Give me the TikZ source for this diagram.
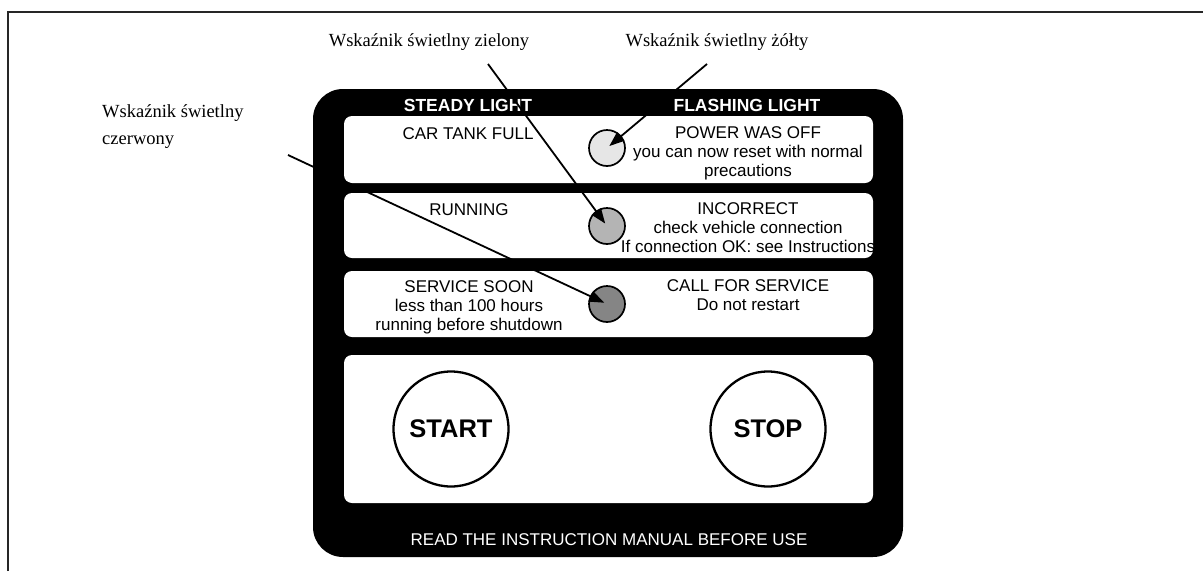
\documentclass[tikz,border=0pt]{standalone}
\usepackage{fontspec}
\setmainfont{Liberation Serif}
\setsansfont{Liberation Sans}
\usetikzlibrary{arrows.meta, positioning}
\definecolor{lampyel}{HTML}{E6E6E6}
\definecolor{lampgrn}{HTML}{B4B4B4}
\definecolor{lampred}{HTML}{858585}
\tikzset{
    lbl/.style={font=\fontsize{18.5}{27}\selectfont, inner sep=0pt},
    panel/.style={fill=black, rounded corners=30pt},
    rowbox/.style={fill=white, rounded corners=8pt},
    hdr/.style={text=white, font=\sffamily\bfseries\fontsize{17.5}{19}\selectfont, inner sep=0pt},
    txt/.style={font=\sffamily\fontsize{17}{19.3}\selectfont, align=center, inner sep=0pt},
    lamp/.style={circle, draw=black, line width=1.7pt, minimum size=36pt, inner sep=0pt},
    btn/.style={circle, draw=black, line width=2.3pt, minimum size=115pt, inner sep=0pt,
                font=\sffamily\bfseries\fontsize{25.5}{27}\selectfont},
    arr/.style={-{Triangle[length=15pt, width=11pt]}, line width=1.8pt, shorten >=3pt}
}

\begin{document}
\begin{tikzpicture}[x=1pt, y=-1pt]
    \useasboundingbox (0,0) rectangle (1203,571);
    % frame
    \draw[line width=1.8pt, black!85] (8,571) -- (8,12) -- (1203,12);
    % panel and its white fields
    \fill[panel] (313,89) rectangle (903,557);
    \fill[rowbox] (344,116) rectangle (873,183);
    \fill[rowbox] (344,193) rectangle (873,258);
    \fill[rowbox] (344,271) rectangle (873,337);
    \fill[rowbox] (344,355) rectangle (873,503);
    \node[hdr] (steady) at (468,105) {STEADY LIGHT};
    \node[hdr] (flash) at (747,105) {FLASHING LIGHT};
    \node[txt, anchor=north] (tank) at (468,127) {CAR TANK FULL};
    \node[txt, anchor=north] (poweroff) at (748,126) {POWER WAS OFF\\you can now reset with normal\\precautions};
    \node[txt, anchor=north] (running) at (469,203) {RUNNING};
    \node[txt, anchor=north] (incorrect) at (748,202) {INCORRECT\\check vehicle connection\\If connection OK: see Instructions};
    \node[txt, anchor=north] (soon) at (469,280) {SERVICE SOON\\less than 100 hours\\running before shutdown};
    \node[txt, anchor=north] (callsrv) at (748,279) {CALL FOR SERVICE\\Do not restart};
    \node[lamp, fill=lampyel] (l1) at (607,148) {};
    \node[lamp, fill=lampgrn] (l2) at (607,226) {};
    \node[lamp, fill=lampred] (l3) at (607,304) {};
    \node[btn] (start) at (451,429) {START};
    \node[btn] (stop) at (768,429) {STOP};
    \node[txt, text=white] (manual) at (609,540) {READ THE INSTRUCTION MANUAL BEFORE USE};
    % callouts
    \node[lbl] (zielony) at (429,42) {Wskaźnik świetlny zielony};
    \node[lbl] (zolty) at (717,42) {Wskaźnik świetlny żółty};
    \node[lbl, align=left, anchor=north west] (czerwony) at (102,104) {Wskaźnik świetlny\\czerwony};
    \coordinate (zs) at (488,64);
    \coordinate (ys) at (707,64);
    \coordinate (rs) at (288,155);
    \draw[arr] (zs) -- (l2.center);
    \draw[arr] (ys) -- (l1.center);
    \draw[arr] (rs) -- (l3.center);
\end{tikzpicture}
\end{document}
